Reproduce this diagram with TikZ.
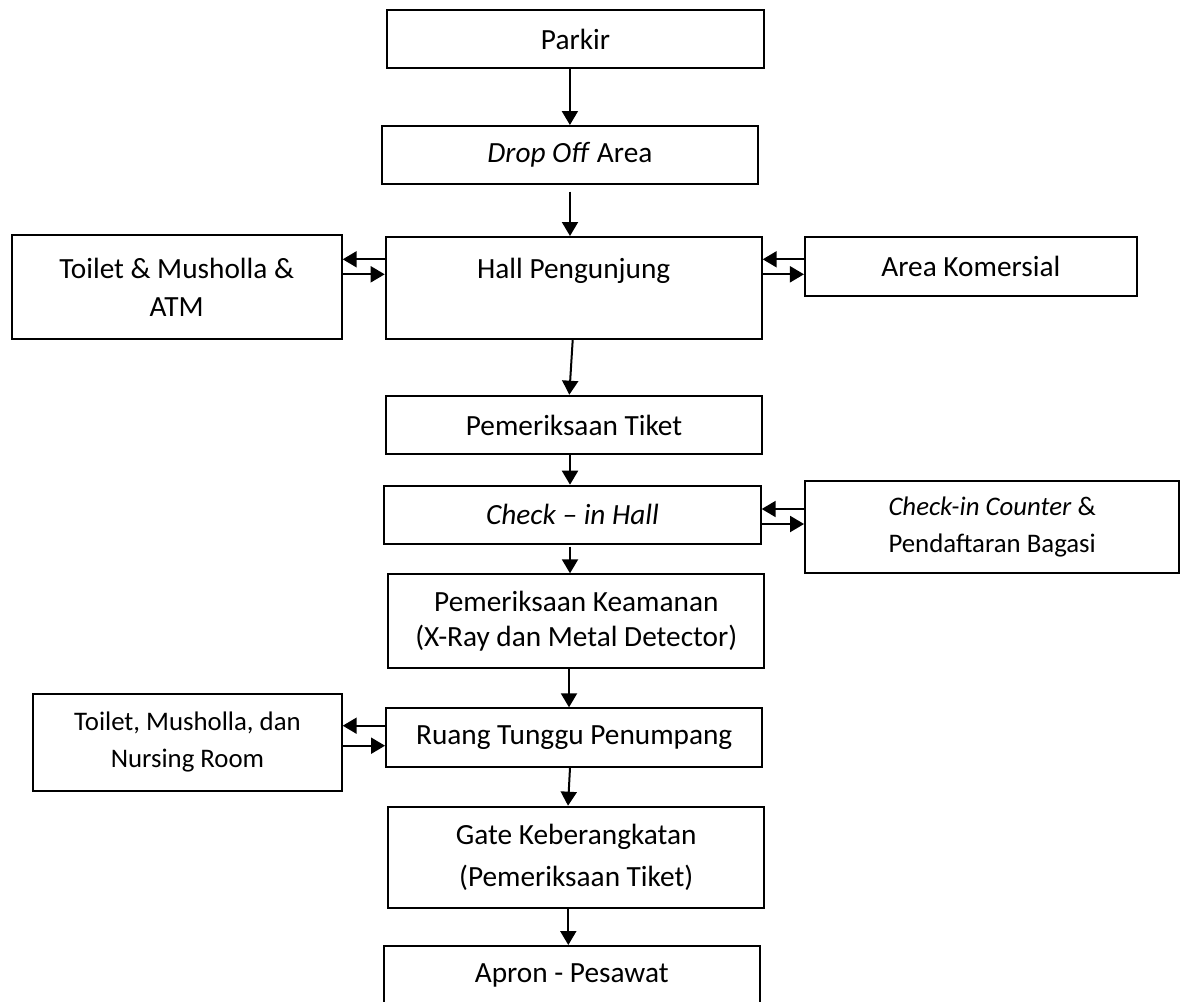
\documentclass[tikz,border=0pt]{standalone}
\usepackage{fontspec}
\setmainfont{Carlito}
\usetikzlibrary{arrows.meta}
\tikzset{
  bx/.style={draw=black, line width=2pt, inner sep=0pt, align=center,
    font=\fontsize{29.3}{35}\selectfont},
  smallbx/.style={bx, font=\fontsize{26.8}{36.7}\selectfont},
  arr/.style={line width=2pt, -{Triangle[length=14pt,width=16pt]}},
}
\begin{document}
\begin{tikzpicture}[x=1pt,y=-1pt]
\path[use as bounding box] (0,0) rectangle (1180,1001);
\clip (0,0) rectangle (1180,1001);

\node[bx, minimum width=377pt, minimum height=58pt] (parkir) at (575.5,39) {Parkir};
\node[bx, minimum width=376.3pt, minimum height=58pt] (drop) at (569.9,155) {\textit{Drop Off} Area};
\node[bx, minimum width=376pt, minimum height=102pt] (hall) at (573.7,288) {Hall Pengunjung\\[5pt]\mbox{}};
\node[bx, minimum width=330pt, minimum height=104pt, font=\fontsize{29.3}{38.3}\selectfont] (toileta) at (176.7,287) {Toilet \& Musholla \&\\ATM};
\node[bx, minimum width=331.7pt, minimum height=58.4pt] (komersial) at (970.8,266.5) {Area Komersial};
\node[bx, minimum width=376.6pt, minimum height=58.6pt] (tiket) at (574,425) {Pemeriksaan Tiket};
\node[bx, minimum width=376.4pt, minimum height=58pt] (checkin) at (572.5,514.7) {\textit{Check -- in Hall}};
\node[smallbx, minimum width=374.3pt, minimum height=92.3pt] (counter) at (992.2,527.2) {\textit{Check-in Counter} \&\\Pendaftaran Bagasi};
\node[bx, minimum width=376pt, minimum height=94pt] (keamanan) at (576.3,621.3) {Pemeriksaan Keamanan\\(X-Ray dan Metal Detector)};
\node[bx, minimum width=376.3pt, minimum height=58.4pt] (ruang) at (574.2,737.5) {Ruang Tunggu Penumpang};
\node[smallbx, minimum width=308.4pt, minimum height=96.7pt] (toiletb) at (187.5,742.3) {Toilet, Musholla, dan\\Nursing Room};
\node[bx, minimum width=375.7pt, minimum height=101.6pt, font=\fontsize{29.3}{41.7}\selectfont] (gate) at (576.2,857.5) {Gate Keberangkatan\\(Pemeriksaan Tiket)};
\node[bx, minimum width=376pt, minimum height=58pt] (apron) at (571.7,975) {Apron - Pesawat};

% vertical connectors
\coordinate (a2s) at (570,191.7);
\coordinate (a5s) at (570,546.7);
\draw[arr] (parkir.south -| drop.north) -- (drop.north);
\draw[arr] (a2s) -- (a2s |- hall.north);
\draw[arr] ([xshift=-1pt]hall.south) -- ([xshift=-4.7pt]tiket.north);
\draw[arr] ([xshift=-4pt]tiket.south) -- ([xshift=-2.5pt]checkin.north);
\draw[arr] (a5s) -- (a5s |- keamanan.north);
\draw[arr] ([xshift=-7.3pt]keamanan.south) -- ([xshift=-5.2pt]ruang.north);
\draw[arr] ([xshift=-4.2pt]ruang.south) -- ([xshift=-8.2pt]gate.north);
\draw[arr] ([xshift=-7.9pt]gate.south) -- ([xshift=-3.4pt]apron.north);

% horizontal connectors
\coordinate (h1) at (0,259.3);
\coordinate (h2) at (0,274.3);
\coordinate (c1) at (0,509);
\coordinate (c2) at (0,524);
\coordinate (r1) at (0,725.7);
\coordinate (r2) at (0,745.7);
\draw[arr] (hall.west |- h1) -- (toileta.east |- h1);
\draw[arr] (toileta.east |- h2) -- (hall.west |- h2);
\draw[arr] (komersial.west |- h1) -- (hall.east |- h1);
\draw[arr] (hall.east |- h2) -- (komersial.west |- h2);
\draw[arr] (counter.west |- c1) -- (checkin.east |- c1);
\draw[arr] (checkin.east |- c2) -- (counter.west |- c2);
\draw[arr] (ruang.west |- r1) -- (toiletb.east |- r1);
\draw[arr] (toiletb.east |- r2) -- (ruang.west |- r2);
\end{tikzpicture}
\end{document}
